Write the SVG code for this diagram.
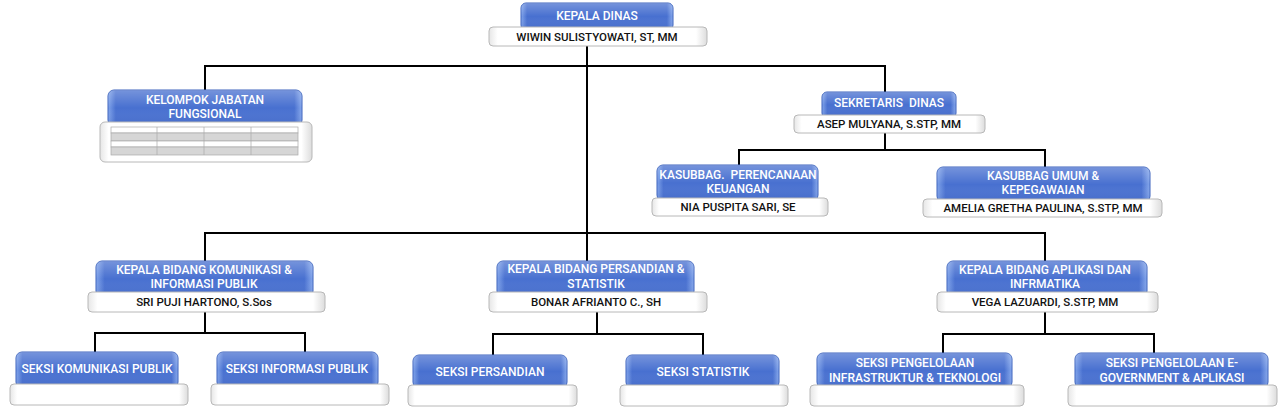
<svg xmlns="http://www.w3.org/2000/svg" width="1280" height="418" viewBox="0 0 1280 418">
<defs>
<linearGradient id="bg" x1="0" y1="0" x2="1" y2="0">
<stop offset="0" stop-color="#7fa3ea"/>
<stop offset="0.04" stop-color="#4870d0"/>
<stop offset="0.96" stop-color="#4870d0"/>
<stop offset="1" stop-color="#86a8ec"/>
</linearGradient>
<linearGradient id="bv" x1="0" y1="0" x2="0" y2="1">
<stop offset="0" stop-color="#ffffff" stop-opacity="0.25"/>
<stop offset="0.5" stop-color="#ffffff" stop-opacity="0"/>
<stop offset="1" stop-color="#1e3f9a" stop-opacity="0.15"/>
</linearGradient>
<linearGradient id="wg" x1="0" y1="0" x2="1" y2="0">
<stop offset="0" stop-color="#e6e6e6"/>
<stop offset="0.04" stop-color="#ffffff"/>
<stop offset="0.95" stop-color="#ffffff"/>
<stop offset="1" stop-color="#dcdcdc"/>
</linearGradient>
</defs>
<style>
.b{fill:url(#bg);stroke:#3c63bd;stroke-width:1}
.bh{fill:url(#bv)}
.w{fill:url(#wg);stroke:#b8b8b8;stroke-width:1}
.t{font-family:Roboto,"Liberation Sans",sans-serif;font-size:12px;font-weight:500;fill:#ffffff;text-anchor:middle}
.n{font-family:Roboto,"Liberation Sans",sans-serif;font-size:11.5px;font-weight:500;fill:#111111;text-anchor:middle}
.c{stroke:#000000;stroke-width:2;fill:none}
</style>
<rect width="1280" height="418" fill="#ffffff"/>
<g id="connectors">
<path class="c" d="M587 46 V233"/>
<path class="c" d="M205 90 V66 H885 V92"/>
<path class="c" d="M885 133 V150"/>
<path class="c" d="M739 166 V150 H1045 V167"/>
<path class="c" d="M205 261 V233 H1045 V261"/>
<path class="c" d="M587 233 V261"/>
<path class="c" d="M205 312 V333"/>
<path class="c" d="M95 352 V333 H305 V352"/>
<path class="c" d="M597 312 V334"/>
<path class="c" d="M493 355 V334 H703 V355"/>
<path class="c" d="M1045 312 V334"/>
<path class="c" d="M943 353 V334 H1154 V353"/>
</g>
<g id="kepala-dinas">
<rect class="b" x="521" y="3" width="152" height="27" rx="5"/>
<rect class="bh" x="521" y="3" width="152" height="27" rx="5"/>
<rect class="w" x="489" y="27" width="218" height="19" rx="4"/>
<text class="t" x="597" y="20">KEPALA DINAS</text>
<text class="n" x="597" y="41">WIWIN SULISTYOWATI, ST, MM</text>
</g>
<g id="kelompok-jabatan">
<rect class="b" x="108" y="90" width="194" height="36" rx="6"/>
<rect class="bh" x="108" y="90" width="194" height="36" rx="6"/>
<rect class="w" x="100" y="122" width="212" height="40" rx="5"/>
<text class="t" x="205" y="104">KELOMPOK JABATAN</text>
<text class="t" x="205" y="118">FUNGSIONAL</text>
<rect x="111" y="127" width="187" height="6" fill="#ffffff" stroke="#aaaaaa" stroke-width="0.7"/>
<rect x="111" y="133" width="187" height="8" fill="#d6d6d6" stroke="#aaaaaa" stroke-width="0.7"/>
<rect x="111" y="141" width="187" height="6" fill="#ffffff" stroke="#aaaaaa" stroke-width="0.7"/>
<rect x="111" y="147" width="187" height="8" fill="#d6d6d6" stroke="#aaaaaa" stroke-width="0.7"/>
<path d="M157 127 V155 M204 127 V155 M251 127 V155" stroke="#aaaaaa" stroke-width="0.7"/>
</g>
<g id="sekretaris">
<rect class="b" x="822" y="92" width="134" height="26" rx="5"/>
<rect class="bh" x="822" y="92" width="134" height="26" rx="5"/>
<rect class="w" x="794" y="115" width="191" height="18" rx="4"/>
<text class="t" x="889" y="107" xml:space="preserve">SEKRETARIS  DINAS</text>
<text class="n" x="889" y="128">ASEP MULYANA, S.STP, MM</text>
</g>
<g id="kasubbag-perencanaan">
<rect class="b" x="657" y="165" width="161" height="36" rx="6"/>
<rect class="bh" x="657" y="165" width="161" height="36" rx="6"/>
<rect class="w" x="652" y="198" width="176" height="18" rx="4"/>
<text class="t" x="738" y="179" xml:space="preserve">KASUBBAG.  PERENCANAAN</text>
<text class="t" x="738" y="193">KEUANGAN</text>
<text class="n" x="738" y="211">NIA PUSPITA SARI, SE</text>
</g>
<g id="kasubbag-umum">
<rect class="b" x="937" y="167" width="213" height="35" rx="6"/>
<rect class="bh" x="937" y="167" width="213" height="35" rx="6"/>
<rect class="w" x="923" y="199" width="239" height="18" rx="4"/>
<text class="t" x="1043" y="180">KASUBBAG UMUM &amp;</text>
<text class="t" x="1043" y="194">KEPEGAWAIAN</text>
<text class="n" x="1043" y="212">AMELIA GRETHA PAULINA, S.STP, MM</text>
</g>
<g id="kabid-komunikasi">
<rect class="b" x="96" y="261" width="217" height="36" rx="6"/>
<rect class="bh" x="96" y="261" width="217" height="36" rx="6"/>
<rect class="w" x="88" y="292" width="237" height="20" rx="4"/>
<text class="t" x="204" y="274">KEPALA BIDANG KOMUNIKASI &amp;</text>
<text class="t" x="204" y="288">INFORMASI PUBLIK</text>
<text class="n" x="204" y="306">SRI PUJI HARTONO, S.Sos</text>
</g>
<g id="kabid-persandian">
<rect class="b" x="497" y="261" width="197" height="36" rx="6"/>
<rect class="bh" x="497" y="261" width="197" height="36" rx="6"/>
<rect class="w" x="489" y="292" width="218" height="20" rx="4"/>
<text class="t" x="596" y="273">KEPALA BIDANG PERSANDIAN &amp;</text>
<text class="t" x="596" y="288">STATISTIK</text>
<text class="n" x="596" y="306">BONAR AFRIANTO C., SH</text>
</g>
<g id="kabid-aplikasi">
<rect class="b" x="947" y="261" width="200" height="36" rx="6"/>
<rect class="bh" x="947" y="261" width="200" height="36" rx="6"/>
<rect class="w" x="937" y="292" width="221" height="20" rx="4"/>
<text class="t" x="1045" y="274">KEPALA BIDANG APLIKASI DAN</text>
<text class="t" x="1045" y="288">INFRMATIKA</text>
<text class="n" x="1045" y="306">VEGA LAZUARDI, S.STP, MM</text>
</g>
<g id="seksi-komunikasi">
<rect class="b" x="16" y="352" width="162" height="36" rx="6"/>
<rect class="bh" x="16" y="352" width="162" height="36" rx="6"/>
<rect class="w" x="10" y="384" width="178" height="21" rx="4"/>
<text class="t" x="97" y="373">SEKSI KOMUNIKASI PUBLIK</text>
</g>
<g id="seksi-informasi">
<rect class="b" x="217" y="352" width="161" height="36" rx="6"/>
<rect class="bh" x="217" y="352" width="161" height="36" rx="6"/>
<rect class="w" x="211" y="384" width="178" height="21" rx="4"/>
<text class="t" x="297" y="373">SEKSI INFORMASI PUBLIK</text>
</g>
<g id="seksi-persandian">
<rect class="b" x="413" y="355" width="154" height="33" rx="6"/>
<rect class="bh" x="413" y="355" width="154" height="33" rx="6"/>
<rect class="w" x="408" y="385" width="169" height="21" rx="4"/>
<text class="t" x="490" y="376">SEKSI PERSANDIAN</text>
</g>
<g id="seksi-statistik">
<rect class="b" x="626" y="355" width="153" height="33" rx="6"/>
<rect class="bh" x="626" y="355" width="153" height="33" rx="6"/>
<rect class="w" x="620" y="385" width="168" height="21" rx="4"/>
<text class="t" x="703" y="376">SEKSI STATISTIK</text>
</g>
<g id="seksi-infrastruktur">
<rect class="b" x="817" y="353" width="195" height="35" rx="6"/>
<rect class="bh" x="817" y="353" width="195" height="35" rx="6"/>
<rect class="w" x="810" y="385" width="214" height="21" rx="4"/>
<text class="t" x="915" y="367">SEKSI PENGELOLAAN</text>
<text class="t" x="915" y="382">INFRASTRUKTUR &amp; TEKNOLOGI</text>
</g>
<g id="seksi-egov">
<rect class="b" x="1075" y="353" width="193" height="35" rx="6"/>
<rect class="bh" x="1075" y="353" width="193" height="35" rx="6"/>
<rect class="w" x="1068" y="385" width="209" height="21" rx="4"/>
<text class="t" x="1172" y="367">SEKSI PENGELOLAAN E-</text>
<text class="t" x="1172" y="382">GOVERNMENT &amp; APLIKASI</text>
</g>
</svg>
